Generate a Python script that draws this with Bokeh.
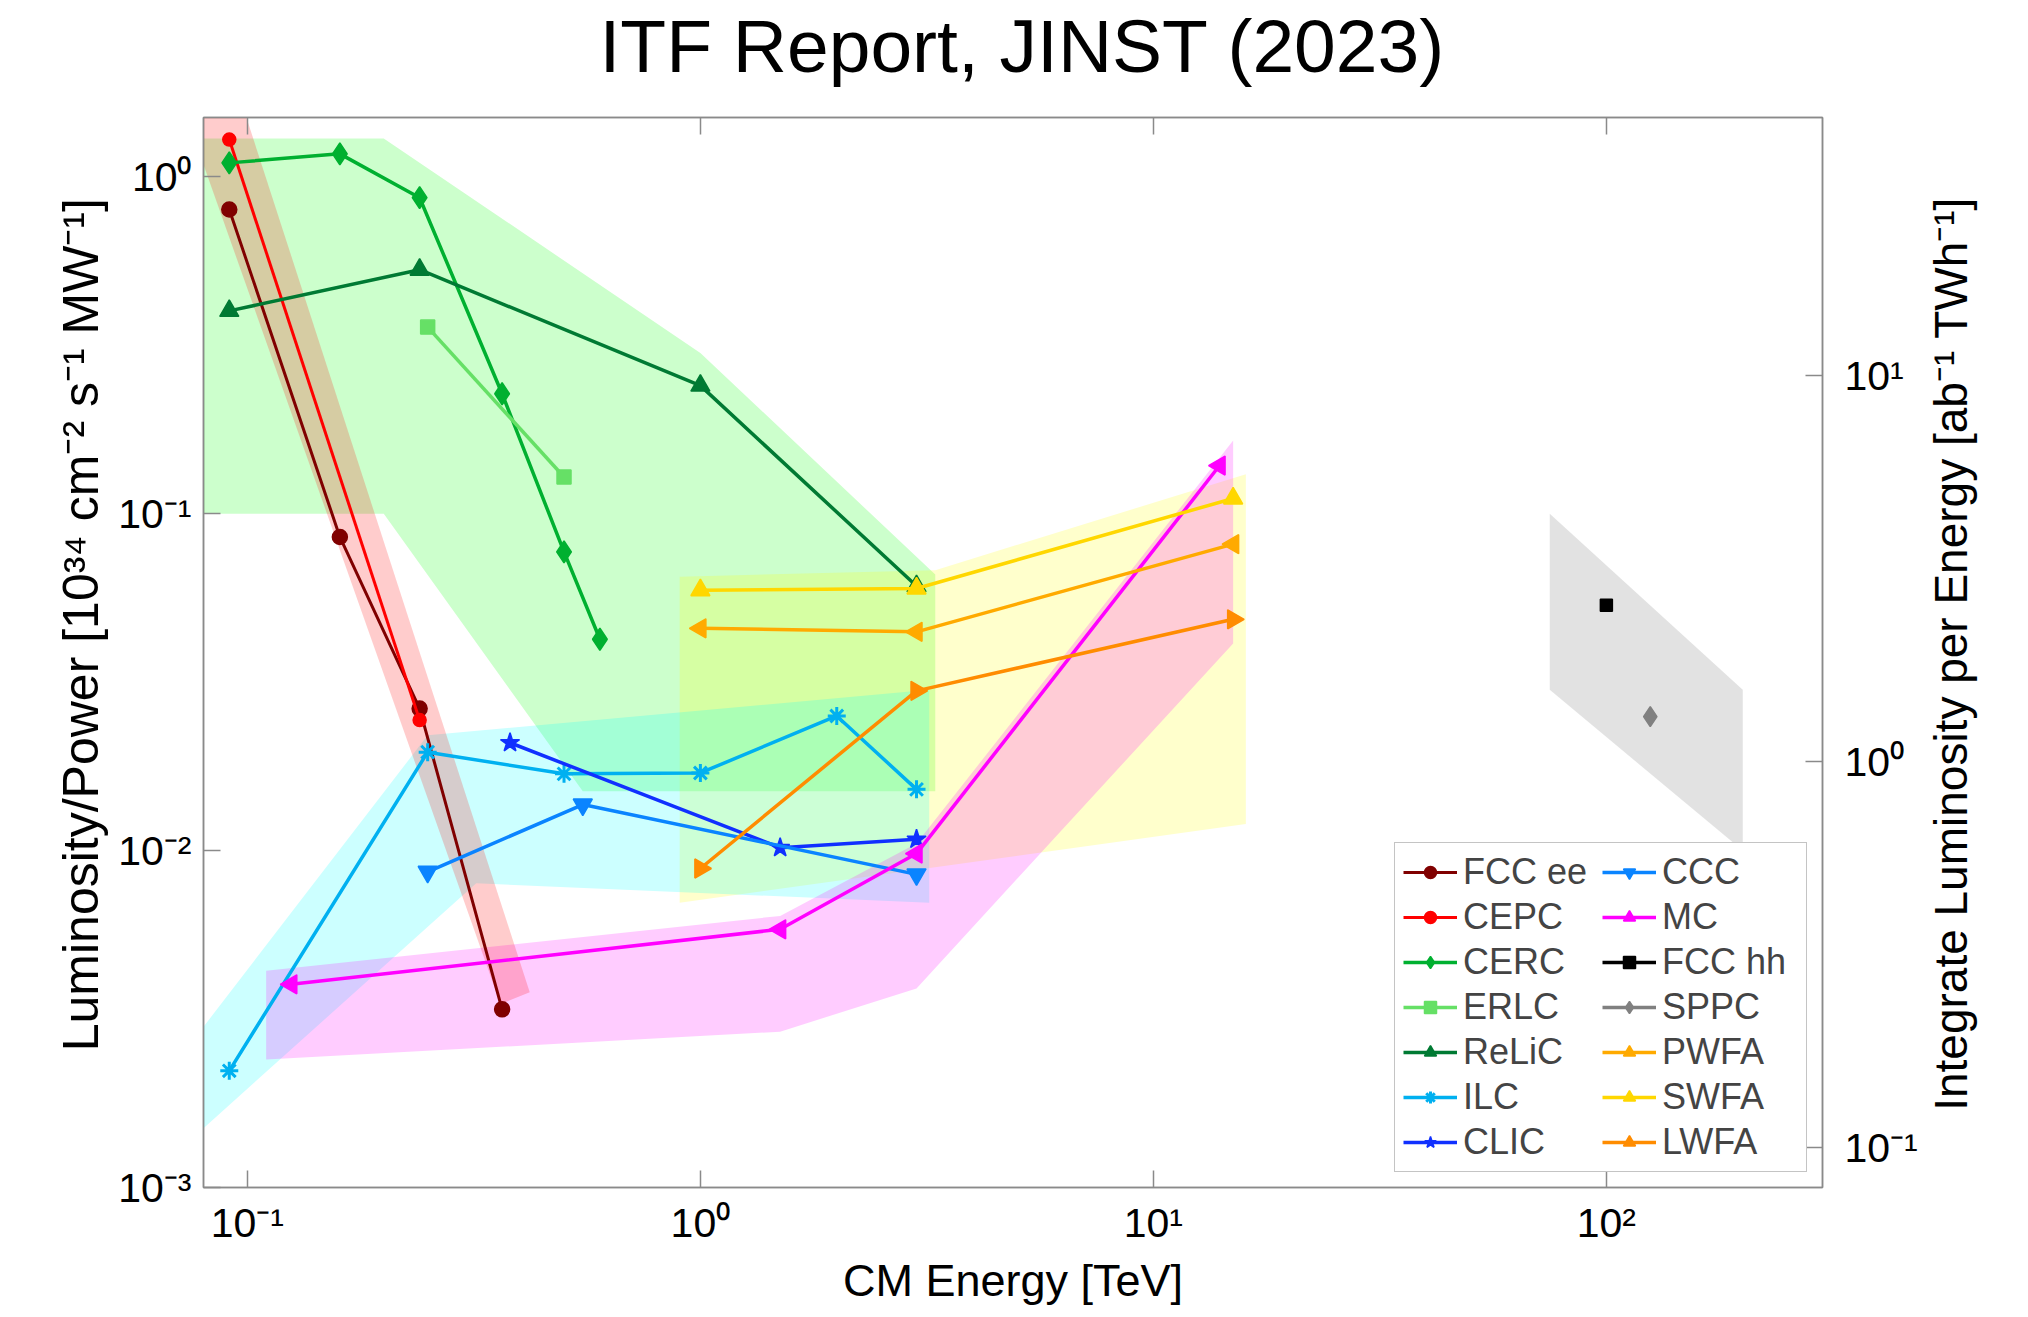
import numpy as np
from bokeh.plotting import figure
from bokeh.models import (Range1d, LogScale, LogAxis, FixedTicker,
                          CustomJSTickFormatter, Legend, LegendItem)
from bokeh.embed import file_html
from bokeh.resources import INLINE

# ---------------- data (CM energy in TeV, luminosity/power) ----------------
fcc_ee_x = [0.0912, 0.16, 0.24, 0.365]
fcc_ee_y = [0.80, 0.0853, 0.0264, 0.00338]
cepc_x = [0.0912, 0.24]
cepc_y = [1.29, 0.0244]
cerc_x = [0.0912, 0.16, 0.24, 0.365, 0.5, 0.6]
cerc_y = [1.10, 1.17, 0.867, 0.227, 0.077, 0.0424]
erlc_x = [0.25, 0.5]
erlc_y = [0.358, 0.1285]
relic_x = [0.0912, 0.24, 1.0, 3.0]
relic_y = [0.40, 0.53, 0.24, 0.061]
ilc_x = [0.0912, 0.25, 0.5, 1.0, 2.0, 3.0]
ilc_y = [0.00222, 0.0196, 0.0169, 0.0170, 0.0251, 0.0152]
clic_x = [0.38, 1.5, 3.0]
clic_y = [0.0209, 0.0102, 0.0108]
ccc_x = [0.25, 0.55, 3.0]
ccc_y = [0.00865, 0.0137, 0.0085]
mc_x = [0.125, 1.5, 3.0, 14.0]
mc_y = [0.00401, 0.00584, 0.0098, 0.139]
fcchh_x = [100.0]
fcchh_y = [0.0535]
sppc_x = [125.0]
sppc_y = [0.025]
pwfa_x = [1.0, 3.0, 15.0]
pwfa_y = [0.0457, 0.0446, 0.0812]
swfa_x = [1.0, 3.0, 15.0]
swfa_y = [0.0593, 0.060, 0.111]
lwfa_x = [1.0, 3.0, 15.0]
lwfa_y = [0.00885, 0.0298, 0.0486]

# shaded regions
band_ee_x = [0.0735, 0.0995, 0.42, 0.362]
band_ee_y = [1.5, 1.5, 0.0038, 0.0035]
band_green_x = [0.08, 0.2, 1.0, 3.3, 3.3, 0.55, 0.2, 0.08]
band_green_y = [1.3, 1.3, 0.3, 0.066, 0.015, 0.015, 0.1, 0.1]
band_yellow_x = [0.9, 3.3, 16.0, 16.0, 0.9]
band_yellow_y = [0.065, 0.068, 0.131, 0.012, 0.007]
band_cyan_x = [0.08, 0.25, 3.2, 3.2, 0.32, 0.08]
band_cyan_y = [0.003, 0.022, 0.03, 0.007, 0.008, 0.0015]
band_mag_x = [0.11, 1.5, 3.0, 15.0, 15.0, 3.0, 1.5, 0.11]
band_mag_y = [0.0044, 0.0064, 0.0105, 0.165, 0.0412, 0.0039, 0.0029, 0.0024]
band_gray_x = [75.0, 200.0, 200.0, 75.0]
band_gray_y = [0.1, 0.03, 0.01, 0.03]

x_ticks = [0.1, 1.0, 10.0, 100.0]
y_ticks = [0.001, 0.01, 0.1, 1.0]
y2_ticks = [0.1, 1.0, 10.0]

FONT = "Liberation Sans"
AX = "#8a8a8a"
NB = "\u00a0"

p = figure(width=2028, height=1317, x_axis_type="log", y_axis_type="log",
           x_range=Range1d(0.08, 300), y_range=Range1d(0.001, 1.5),
           output_backend="svg", toolbar_location=None,
           min_border_left=203, min_border_right=206,
           min_border_top=117, min_border_bottom=130)
p.extra_y_ranges = {"right": Range1d(0.079, 46.6)}
p.extra_y_scales = {"right": LogScale()}

p.xgrid.visible = False
p.ygrid.visible = False
p.outline_line_color = AX
p.outline_line_width = 1.5
p.background_fill_color = "white"
p.border_fill_color = "white"

p.title.text = "ITF Report, JINST (2023)"
p.title.text_font = FONT
p.title.text_font_size = "75px"
p.title.text_font_style = "normal"
p.title.text_color = "black"
p.title.align = "left"
p.title.offset = 396
p.title.standoff = 2

fmt = CustomJSTickFormatter(code="""
const sup = {"-":"\u207b","0":"\u2070","1":"\u00b9","2":"\u00b2","3":"\u00b3"};
const e = Math.round(Math.log10(tick));
return "10" + String(e).split("").map(c => sup[c]).join("");
""")

def style_axis(ax, ticks, label_size="41px"):
    ax.ticker = FixedTicker(ticks=ticks)
    ax.formatter = fmt
    ax.major_tick_in = 17
    ax.major_tick_out = 0
    ax.minor_tick_line_color = None
    ax.axis_line_color = AX
    ax.axis_line_width = 1.5
    ax.major_tick_line_color = AX
    ax.major_tick_line_width = 1.5
    ax.major_label_text_font = FONT
    ax.major_label_text_font_size = label_size
    ax.major_label_text_color = "black"
    ax.axis_label_text_font = FONT
    ax.axis_label_text_font_style = "normal"
    ax.axis_label_text_font_size = "50px"
    ax.axis_label_text_color = "black"

xax = p.xaxis[0]
style_axis(xax, x_ticks)
xax.axis_label = "CM Energy [TeV]"
xax.axis_label_text_font_size = "45px"
xax.major_label_standoff = 12
xax.axis_label_standoff = 6

yax = p.yaxis[0]
style_axis(yax, y_ticks)
# leading no-break spaces nudge the centred label slightly upward
yax.axis_label = NB * 4 + "Luminosity/Power [10\u00b3\u2074 cm\u207b\u00b2 s\u207b\u00b9 MW\u207b\u00b9]"
yax.major_label_standoff = 12
yax.axis_label_standoff = 6

# top axis: ticks only; a blank label gives it height so the title sits higher
top = LogAxis()
style_axis(top, x_ticks, label_size="1px")
top.major_label_text_color = None
top.major_label_standoff = 0
top.axis_label = NB
top.axis_label_text_font_size = "10px"
top.axis_label_standoff = 15
p.add_layout(top, "above")

right_label = "Integrate Luminosity per Energy [ab\u207b\u00b9 TWh\u207b\u00b9]"
rax = LogAxis(y_range_name="right")
style_axis(rax, y2_ticks)
rax.axis_label_text_font_size = "46px"
rax.major_label_standoff = 22
rax.axis_label_standoff = 30
if "axis_label_align" in type(rax).properties():
    # read bottom-to-top, starting near the lower end of the axis
    rax.axis_label_orientation = np.pi / 2
    rax.axis_label_align = "start"
    rax.axis_label = NB * 6 + right_label
else:
    rax.axis_label = right_label
p.add_layout(rax, "right")

# shaded regions
for bx, by, col, al in [(band_green_x, band_green_y, "#00ff00", 0.2),
                        (band_yellow_x, band_yellow_y, "#ffff00", 0.2),
                        (band_cyan_x, band_cyan_y, "#00ffff", 0.2),
                        (band_mag_x, band_mag_y, "#ff00ff", 0.2),
                        (band_ee_x, band_ee_y, "#ff0000", 0.2),
                        (band_gray_x, band_gray_y, "#808080", 0.23)]:
    p.patch(bx, by, fill_color=col, fill_alpha=al, line_color=None)

series = [
    ("FCC ee", fcc_ee_x, fcc_ee_y, "#800000", "circle", 15, 0.0, 3),
    ("CEPC", cepc_x, cepc_y, "#ff0000", "circle", 13, 0.0, 3),
    ("CERC", cerc_x, cerc_y, "#00b030", "diamond", 22, 0.0, 3.5),
    ("ERLC", erlc_x, erlc_y, "#66e066", "square", 14, 0.0, 3.5),
    ("ReLiC", relic_x, relic_y, "#007a33", "triangle", 19, 0.0, 3.5),
    ("ILC", ilc_x, ilc_y, "#00b0f0", "asterisk", 18, 0.0, 3.5),
    ("CLIC", clic_x, clic_y, "#1030ff", "star", 20, 0.0, 3.5),
    ("CCC", ccc_x, ccc_y, "#0a84ff", "inverted_triangle", 19, 0.0, 3.5),
    ("MC", mc_x, mc_y, "#ff00ff", "triangle", 19, np.pi / 2, 3.5),
    ("FCC hh", fcchh_x, fcchh_y, "#000000", "square", 12, 0.0, 3.5),
    ("SPPC", sppc_x, sppc_y, "#808080", "diamond", 20, 0.0, 3.5),
    ("PWFA", pwfa_x, pwfa_y, "#ffaa00", "triangle", 19, np.pi / 2, 3.5),
    ("SWFA", swfa_x, swfa_y, "#ffd700", "triangle", 19, 0.0, 3.5),
    ("LWFA", lwfa_x, lwfa_y, "#ff8c00", "triangle", 19, -np.pi / 2, 3.5),
]

items = []
for name, xs, ys, col, mk, sz, ang, lw in series:
    lr = p.line(xs, ys, line_color=col, line_width=lw)
    sr = p.scatter(xs, ys, marker=mk, size=sz, angle=ang, fill_color=col,
                   line_color=col, line_width=1.5 if mk != "asterisk" else 3)
    items.append(LegendItem(label=name, renderers=[lr, sr]))

legend = Legend(items=items, location="bottom_right", nrows=7,
                orientation="vertical", margin=15,
                label_text_font=FONT, label_text_font_size="36px",
                glyph_width=54, glyph_height=30, label_height=30,
                label_width=136, spacing=3, padding=8, label_standoff=6,
                border_line_color=AX, border_line_width=1.5,
                background_fill_color="white", background_fill_alpha=1.0)
p.add_layout(legend, "center")

open("out.html", "w").write(file_html(p, INLINE))
